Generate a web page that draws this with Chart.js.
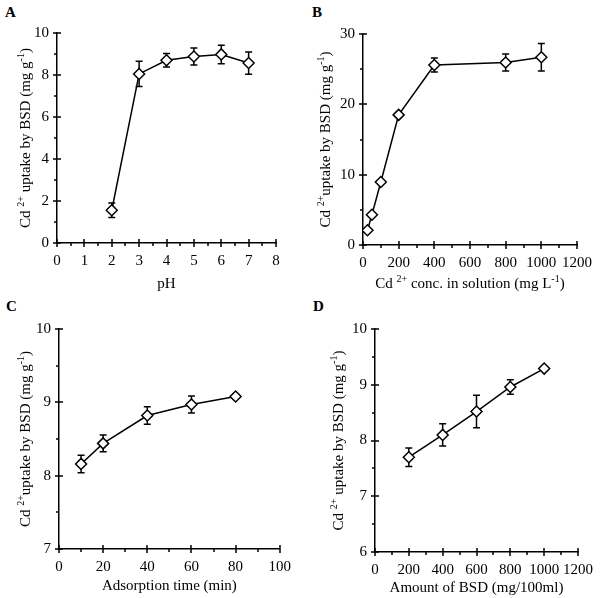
<!DOCTYPE html>
<html>
<head>
<meta charset="utf-8">
<script src="https://cdn.jsdelivr.net/npm/chart.js@4"></script>
<style>
body { margin: 0; background: #fff; }
#wrap { position: relative; width: 602px; height: 598px; }
canvas { position: absolute; }
.lbl { position: absolute; font: bold 15px "Liberation Serif", serif; color: #000; }
</style>
</head>
<body>
<div id="wrap">
  <div class="lbl" style="left:5px;top:4px">A</div>
  <div class="lbl" style="left:312px;top:4px">B</div>
  <div class="lbl" style="left:6px;top:298px">C</div>
  <div class="lbl" style="left:313px;top:298px">D</div>
  <canvas id="chartA" width="300" height="300" style="left:0;top:0"></canvas>
  <canvas id="chartB" width="302" height="300" style="left:300px;top:0"></canvas>
  <canvas id="chartC" width="300" height="298" style="left:0;top:300px"></canvas>
  <canvas id="chartD" width="302" height="298" style="left:300px;top:300px"></canvas>
</div>
<script>
// A: effect of pH
const phValues = [2, 3, 4, 5, 6, 7];
const phUptake = [1.56, 8.05, 8.7, 8.88, 8.98, 8.57];
const phError = [0.35, 0.6, 0.32, 0.4, 0.44, 0.53];

// B: initial Cd concentration
const concValues = [25, 50, 100, 200, 400, 800, 1000];
const concUptake = [2.1, 4.3, 8.95, 18.5, 25.6, 25.95, 26.7];
const concError = [0, 0, 0, 0, 1.0, 1.2, 1.95];

// C: adsorption time
const timeValues = [10, 20, 40, 60, 80];
const timeUptake = [8.16, 8.44, 8.82, 8.97, 9.08];
const timeError = [0.12, 0.115, 0.12, 0.115, 0.03];

// D: amount of BSD
const doseValues = [200, 400, 600, 800, 1000];
const doseUptake = [7.7, 8.1, 8.52, 8.96, 9.29];
const doseError = [0.165, 0.2, 0.29, 0.13, 0.03];

const FONT = '"Liberation Serif", "Times New Roman", serif';

// error bars under the markers
const errorBars = {
    id: 'errorBars',
    beforeDatasetsDraw(chart) {
        const {ctx, scales: {x, y}} = chart;
        ctx.save();
        ctx.strokeStyle = '#000';
        ctx.lineWidth = 1.5;
        chart.data.datasets.forEach(ds => {
            if (!ds.errors) return;
            ds.data.forEach((p, i) => {
                const e = ds.errors[i];
                if (!e) return;
                const px = x.getPixelForValue(p.x);
                const top = y.getPixelForValue(p.y + e);
                const bot = y.getPixelForValue(p.y - e);
                ctx.beginPath();
                ctx.moveTo(px, top); ctx.lineTo(px, bot);
                ctx.moveTo(px - 3.5, top); ctx.lineTo(px + 3.5, top);
                ctx.moveTo(px - 3.5, bot); ctx.lineTo(px + 3.5, bot);
                ctx.stroke();
            });
        });
        ctx.restore();
    }
};

function drawRich(ctx, segs, x, y, rotate) {
    ctx.save();
    ctx.translate(x, y);
    if (rotate) ctx.rotate(-Math.PI / 2);
    ctx.fillStyle = '#000';
    ctx.textAlign = 'left';
    ctx.textBaseline = 'alphabetic';
    const fontOf = s => (s.sup ? '10px ' : '15px ') + FONT;
    let total = 0;
    segs.forEach(s => { ctx.font = fontOf(s); total += ctx.measureText(s.t).width; });
    let cx = -total / 2;
    segs.forEach(s => {
        ctx.font = fontOf(s);
        ctx.fillText(s.t, cx, s.sup ? -1 : 5);
        cx += ctx.measureText(s.t).width;
    });
    ctx.restore();
}

// tick marks (major ones cross the axis, minor ones point out) and axis titles
function decorations(c) {
    return {
        id: 'decorations',
        afterDraw(chart) {
            const {ctx, chartArea: a, scales: {x, y}} = chart;
            ctx.save();
            ctx.strokeStyle = '#000';
            ctx.lineWidth = 1.5;
            ctx.beginPath();
            for (let i = 0; i <= Math.round((c.xMax - c.xMin) * 2 / c.xStep); i++) {
                const px = Math.round(x.getPixelForValue(c.xMin + i * c.xStep / 2));
                const maj = i % 2 === 0;
                ctx.moveTo(px, a.bottom + (maj ? 4 : 3));
                ctx.lineTo(px, a.bottom - (maj ? 4 : 0));
            }
            for (let i = 0; i <= Math.round((c.yMax - c.yMin) * 2 / c.yStep); i++) {
                const py = Math.round(y.getPixelForValue(c.yMin + i * c.yStep / 2));
                const maj = i % 2 === 0;
                ctx.moveTo(a.left - (maj ? 4 : 3), py);
                ctx.lineTo(a.left + (maj ? 4 : 0), py);
            }
            ctx.stroke();
            ctx.restore();
            drawRich(ctx, c.xTitle, (a.left + a.right) / 2, a.bottom + c.xDy, false);
            drawRich(ctx, c.yTitle, a.left + c.yDx, (a.top + a.bottom) / 2, true);
        }
    };
}

function makeChart(id, xs, ys, errs, c) {
    new Chart(document.getElementById(id), {
        type: 'line',
        data: {
            datasets: [{
                data: xs.map((v, i) => ({x: v, y: ys[i]})),
                errors: errs,
                borderColor: '#000',
                borderWidth: 1.5,
                pointStyle: 'rectRot',
                pointRadius: 5.5,
                pointBackgroundColor: '#fff',
                pointBorderColor: '#000',
                pointBorderWidth: 1.5,
                tension: 0
            }]
        },
        options: {
            responsive: false,
            animation: false,
            events: [],
            layout: {padding: {top: c.top, right: c.w - c.right, left: 0, bottom: 0}},
            plugins: {
                legend: {display: false},
                tooltip: {enabled: false}
            },
            scales: {
                x: {
                    type: 'linear',
                    min: c.xMin, max: c.xMax,
                    grid: {display: false, drawTicks: false},
                    border: {color: '#000', width: 1.5},
                    ticks: {stepSize: c.xStep, color: '#000', padding: 9, maxRotation: 0,
                        font: {family: FONT, size: 15}, callback: v => String(v)},
                    afterFit: s => { s.height = c.h - c.bottom; }
                },
                y: {
                    type: 'linear',
                    min: c.yMin, max: c.yMax,
                    grid: {display: false, drawTicks: false},
                    border: {color: '#000', width: 1.5},
                    ticks: {stepSize: c.yStep, color: '#000', padding: 8,
                        font: {family: FONT, size: 15}, callback: v => String(v)},
                    afterFit: s => { s.width = c.left; }
                }
            }
        },
        plugins: [errorBars, decorations(c)]
    });
}

const uptakeTitle = [{t: 'Cd '}, {t: '2+', sup: true}, {t: ' uptake by BSD (mg g'}, {t: '-1', sup: true}, {t: ')'}];
const uptakeTitle2 = [{t: 'Cd '}, {t: '2+', sup: true}, {t: 'uptake by BSD (mg g'}, {t: '-1', sup: true}, {t: ')'}];

makeChart('chartA', phValues, phUptake, phError, {
    w: 300, h: 300, left: 57, top: 33, right: 276, bottom: 243,
    xMin: 0, xMax: 8, xStep: 1, yMin: 0, yMax: 10, yStep: 2,
    xTitle: [{t: 'pH'}], yTitle: uptakeTitle, xDy: 40, yDx: -32
});
makeChart('chartB', concValues, concUptake, concError, {
    w: 302, h: 300, left: 63, top: 34, right: 277, bottom: 245,
    xMin: 0, xMax: 1200, xStep: 200, yMin: 0, yMax: 30, yStep: 10,
    xTitle: [{t: 'Cd '}, {t: '2+', sup: true}, {t: ' conc. in solution (mg L'}, {t: '-1', sup: true}, {t: ')'}],
    yTitle: uptakeTitle2, xDy: 38, yDx: -38
});
makeChart('chartC', timeValues, timeUptake, timeError, {
    w: 300, h: 298, left: 59, top: 29, right: 280, bottom: 249,
    xMin: 0, xMax: 100, xStep: 20, yMin: 7, yMax: 10, yStep: 1,
    xTitle: [{t: 'Adsorption time (min)'}], yTitle: uptakeTitle2, xDy: 36, yDx: -34
});
makeChart('chartD', doseValues, doseUptake, doseError, {
    w: 302, h: 298, left: 75, top: 29, right: 286, bottom: 252,
    xMin: 0, xMax: 1200, xStep: 200, yMin: 6, yMax: 10, yStep: 1,
    xTitle: [{t: 'Amount of BSD (mg/100ml)'}], yTitle: uptakeTitle, xDy: 35, yDx: -37
});
</script>
</body>
</html>
